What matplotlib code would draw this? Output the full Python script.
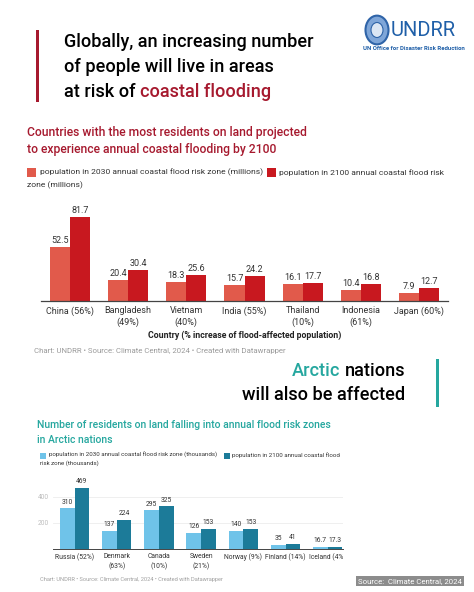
import numpy as np
import matplotlib
matplotlib.use('Agg')
import matplotlib.pyplot as plt
from matplotlib.patches import Rectangle, Circle
from matplotlib.transforms import Bbox, TransformedBbox

plt.rcParams['font.family'] = ['Roboto', 'DejaVu Sans']

# chart 1 data (millions)
countries = ['China (56%)', 'Bangladesh\n(49%)', 'Vietnam\n(40%)', 'India (55%)',
             'Thailand\n(10%)', 'Indonesia\n(61%)', 'Japan (60%)']
pop_2030 = [52.5, 20.4, 18.3, 15.7, 16.1, 10.4, 7.9]
pop_2100 = [81.7, 30.4, 25.6, 24.2, 17.7, 16.8, 12.7]

# chart 2 data (thousands)
arctic = ['Russia (52%)', 'Denmark\n(63%)', 'Canada\n(10%)', 'Sweden\n(21%)',
          'Norway (9%)', 'Finland (14%)', 'Iceland (4%)']
arc_2030 = [310, 137, 295, 126, 140, 35, 16.7]
arc_2100 = [469, 224, 325, 153, 153, 41, 17.3]
arc_yticks = [200, 400]

W, H = 474, 592
RED_L, RED_D, RED_T = '#e15a4b', '#c8181f', '#a6192e'
BLU_L, BLU_D, TEAL = '#6fc3e9', '#1c7b99', '#25a79f'
HEAD = 13.1


def fx(px):
    return px / W


def fy(py):
    return 1 - py / H


fig = plt.figure(figsize=(W / 100, H / 100), dpi=100)
fig.patch.set_facecolor('white')

# ---- header ----
fig.add_artist(Rectangle((fx(36), fy(102)), fx(3), (102 - 30) / H, transform=fig.transFigure,
                         color=RED_T, lw=0))
fig.text(fx(64), fy(42), 'Globally, an increasing number', fontsize=HEAD, va='center', weight=500)
fig.text(fx(64), fy(67), 'of people will live in areas', fontsize=HEAD, va='center', weight=500)
t = fig.text(fx(64), fy(92), 'at risk of ', fontsize=HEAD, va='center', weight=500)
fig.canvas.draw()
bb = t.get_window_extent()
fig.text(bb.x1 / fig.dpi / fig.get_figwidth(), fy(92), 'coastal flooding', fontsize=HEAD,
         va='center', weight=500, color=RED_T)

# logo
fig.add_artist(Circle((fx(377), fy(30)), 11.5 / W, transform=fig.transFigure,
                      facecolor='#7fa6d8', edgecolor='#2f64a8', lw=1.5))
fig.add_artist(Circle((fx(377), fy(30)), 6 / W, transform=fig.transFigure,
                      facecolor='#dbe6f4', edgecolor='#2f64a8', lw=0.8))
fig.text(fx(391), fy(31), 'UNDRR', fontsize=14.5, va='center', color='#1f5fa8')
fig.text(fx(363), fy(48), 'UN Office for Disaster Risk Reduction', fontsize=4.3, va='center',
         color='#1f5fa8', weight='bold')

# ---- chart 1 ----
fig.text(fx(27), fy(132), 'Countries with the most residents on land projected', fontsize=8.7,
         va='center', color=RED_T, weight=500)
fig.text(fx(27), fy(150), 'to experience annual coastal flooding by 2100', fontsize=8.7,
         va='center', color=RED_T, weight=500)
fig.add_artist(Rectangle((fx(27), fy(177)), fx(9), 9 / H, transform=fig.transFigure,
                         color=RED_L, lw=0))
fig.text(fx(40), fy(172.5), 'population in 2030 annual coastal flood risk zone (millions)',
         fontsize=6.1, va='center', color='#333333')
fig.add_artist(Rectangle((fx(267), fy(177)), fx(9), 9 / H, transform=fig.transFigure,
                         color=RED_D, lw=0))
fig.text(fx(279), fy(172.5), 'population in 2100 annual coastal flood risk',
         fontsize=6.1, va='center', color='#333333')
fig.text(fx(27), fy(185), 'zone (millions)', fontsize=6.1, va='center', color='#333333')

base1, top1 = 300.7, 205
ax1 = fig.add_axes([fx(41), fy(base1), fx(448 - 41), (base1 - top1) / H])
x = np.arange(len(countries))
bw = 0.345
ax1.bar(x - bw / 2, pop_2030, bw, color=RED_L)
ax1.bar(x + bw / 2, pop_2100, bw, color=RED_D)
for i in range(len(countries)):
    ax1.text(x[i] - bw / 2, pop_2030[i] + 2, f'{pop_2030[i]}', ha='center', va='bottom',
             fontsize=6.5, color='#333333')
    ax1.text(x[i] + bw / 2, pop_2100[i] + 2, f'{pop_2100[i]}', ha='center', va='bottom',
             fontsize=6.5, color='#333333')
ax1.set_xlim(-0.5, 6.5)
ax1.set_ylim(0, (base1 - top1) / 1.02)
ax1.set_xticks(x)
ax1.set_xticklabels(countries, fontsize=6.5, color='#333333', linespacing=1.3)
ax1.tick_params(axis='x', length=0, pad=4)
ax1.set_yticks([])
for s in ['top', 'right', 'left']:
    ax1.spines[s].set_visible(False)
ax1.spines['bottom'].set_color('#444444')
ax1.spines['bottom'].set_linewidth(0.9)
ax1.patch.set_alpha(0)
fig.text(fx(244.5), fy(335), 'Country (% increase of flood-affected population)', fontsize=6.3,
         ha='center', va='center', weight='bold', color='#222222')
fig.text(fx(34), fy(351), 'Chart: UNDRR \u2022 Source: Climate Central, 2024 \u2022 Created with Datawrapper',
         fontsize=5.6, va='center', color='#9a9a9a')

# ---- section 2 header ----
fig.add_artist(Rectangle((fx(436), fy(407)), fx(3), (407 - 359) / H, transform=fig.transFigure,
                         color=TEAL, lw=0))
t2 = fig.text(fx(405), fy(371), 'nations', fontsize=HEAD, va='center', ha='right', weight=500)
fig.canvas.draw()
bb2 = t2.get_window_extent()
fig.text((bb2.x0 - 4) / fig.dpi / fig.get_figwidth(), fy(371), 'Arctic', fontsize=HEAD,
         va='center', ha='right', weight=500, color=TEAL)
fig.text(fx(405), fy(395), 'will also be affected', fontsize=HEAD, va='center', ha='right',
         weight=500)

# ---- chart 2 ----
fig.text(fx(37), fy(425), 'Number of residents on land falling into annual flood risk zones',
         fontsize=7.5, va='center', color=TEAL, weight=500)
fig.text(fx(37), fy(440), 'in Arctic nations', fontsize=7.5, va='center', color=TEAL, weight=500)
fig.add_artist(Rectangle((fx(40), fy(458.5)), fx(6), 6 / H, transform=fig.transFigure,
                         color=BLU_L, lw=0))
fig.text(fx(49), fy(455.5), 'population in 2030 annual coastal flood risk zone (thousands)',
         fontsize=4.4, va='center', color='#333333')
fig.add_artist(Rectangle((fx(224), fy(458.5)), fx(6), 6 / H, transform=fig.transFigure,
                         color=BLU_D, lw=0))
fig.text(fx(232), fy(455.5), 'population in 2100 annual coastal flood',
         fontsize=4.4, va='center', color='#333333')
fig.text(fx(40), fy(463.5), 'risk zone (thousands)', fontsize=4.4, va='center', color='#333333')

base2, top2 = 549.3, 476
ax2 = fig.add_axes([fx(53), fy(base2), fx(343 - 53), (base2 - top2) / H])
x2 = np.arange(len(arctic))
bw2 = 0.348
ax2.bar(x2 - bw2 / 2, arc_2030, bw2, color=BLU_L, zorder=3)
ax2.bar(x2 + bw2 / 2, arc_2100, bw2, color=BLU_D, zorder=3)
for i in range(len(arctic)):
    ax2.text(x2[i] - bw2 / 2, arc_2030[i] + 22, f'{arc_2030[i]:g}', ha='center', va='bottom',
             fontsize=4.9, color='#333333')
    ax2.text(x2[i] + bw2 / 2, arc_2100[i] + 22, f'{arc_2100[i]:g}', ha='center', va='bottom',
             fontsize=4.9, color='#333333')
ax2.set_xlim(-0.51, 6.36)
ax2.set_ylim(0, (base2 - top2) / 0.1317)
ax2.set_yticks(arc_yticks)
ax2.set_yticklabels([str(v) for v in arc_yticks], fontsize=4.8, color='#bdbdbd')
ax2.yaxis.grid(True, color='#ececec', lw=0.6, zorder=0)
ax2.set_xticks(x2)
ax2.set_xticklabels(arctic, fontsize=4.9, color='#333333', linespacing=1.3)
ax2.tick_params(axis='both', length=0)
ax2.tick_params(axis='x', pad=3)
ax2.tick_params(axis='y', pad=3)
for s in ['top', 'right', 'left']:
    ax2.spines[s].set_visible(False)
ax2.spines['bottom'].set_color('#444444')
ax2.spines['bottom'].set_linewidth(0.7)
ax2.spines['bottom'].set_zorder(4)
ax2.patch.set_alpha(0)
clip = TransformedBbox(Bbox([[0, 0], [fx(343), 1]]), fig.transFigure)
for lbl in ax2.get_xticklabels():
    lbl.set_clip_box(clip)
    lbl.set_clip_on(True)

fig.text(fx(40), fy(580), 'Chart: UNDRR \u2022 Source: Climate Central, 2024 \u2022 Created with Datawrapper',
         fontsize=4.1, va='center', color='#a0a0a0')
fig.text(fx(410), fy(581.3), 'Source:  Climate Central, 2024', fontsize=5.6, ha='center',
         va='center', color='white',
         bbox=dict(boxstyle='square,pad=0.25', facecolor='#8c8c8c', edgecolor='none'))

fig.savefig('out.png', dpi=100)
